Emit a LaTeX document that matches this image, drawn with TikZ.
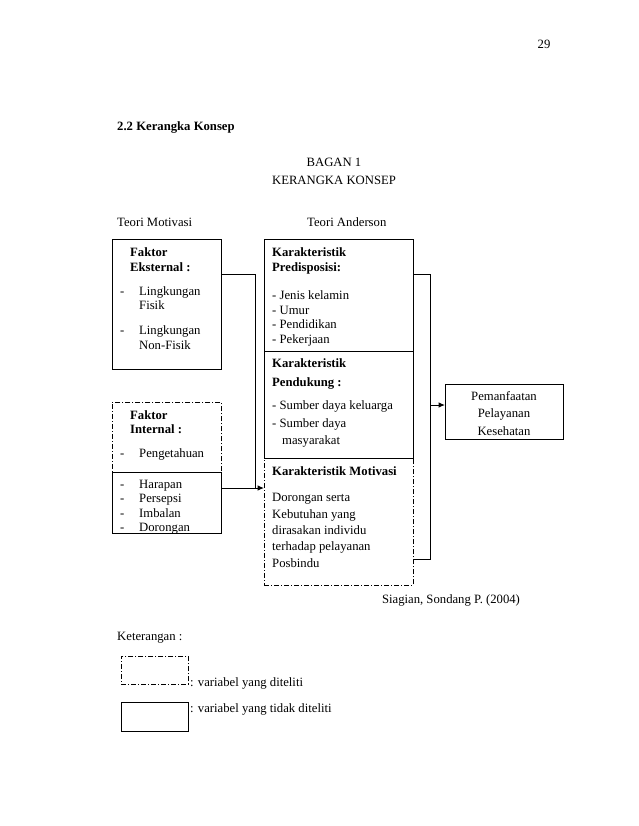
\documentclass[tikz,border=0pt]{standalone}
\usepackage{fontspec}
\setmainfont{Liberation Serif}
\usetikzlibrary{arrows.meta}
\begin{document}
\begin{tikzpicture}[x=1pt,y=-1pt,
  every node/.style={font=\fontsize{12.7}{15}\selectfont},
  solidbox/.style={draw, line width=1pt, inner sep=0, anchor=north west},
  dashbox/.style={draw, line width=0.9pt, inner sep=0, anchor=north west, dash pattern=on 5pt off 2pt on 1pt off 2pt},
  txt/.style={inner sep=0, anchor=base west},
  btxt/.style={inner sep=0, anchor=base west, font=\fontsize{12.7}{15}\selectfont\bfseries},
  ctxt/.style={inner sep=0, anchor=base},
  conn/.style={line width=1pt},
  arr/.style={line width=1pt, -{Latex[length=6.5pt,width=5.5pt]}}
]
\useasboundingbox (0,0) rectangle (638,826);
\fill[white] (0,0) rectangle (638,826);

% header texts
\node[ctxt] (pg) at (544,49) {29};
\node[btxt] (title) at (117,131) {2.2 Kerangka Konsep};
\node[ctxt] (bagan) at (334,167) {BAGAN 1};
\node[ctxt] (kk) at (334,185) {KERANGKA KONSEP};
\node[txt] (tm) at (117,226) {Teori Motivasi};
\node[txt] (ta) at (307,226) {Teori Anderson};

% boxes
\node[solidbox, minimum width=109pt, minimum height=130pt] (fe) at (112,239) {};
\node[dashbox, minimum width=109pt, minimum height=70pt] (fitop) at (112,402) {};
\node[solidbox, minimum width=109pt, minimum height=61pt] (fibot) at (112,472) {};
\node[solidbox, minimum width=149pt, minimum height=112pt] (kp) at (264,239) {};
\node[solidbox, minimum width=149pt, minimum height=107pt] (kd) at (264,351) {};
\node[dashbox, minimum width=149pt, minimum height=127pt] (km) at (264,458) {};
\node[solidbox, minimum width=118pt, minimum height=55pt] (pem) at (445,384) {};

% Faktor Eksternal text
\node[btxt] (fe1) at (130,256) {Faktor};
\node[btxt] (fe2) at (130,271) {Eksternal :};
\node[txt] (fe3a) at (120,295) {-};
\node[txt] (fe3) at (139,295) {Lingkungan};
\node[txt] (fe4) at (139,309) {Fisik};
\node[txt] (fe5a) at (120,334) {-};
\node[txt] (fe5) at (139,334) {Lingkungan};
\node[txt] (fe6) at (139,349) {Non-Fisik};

% Faktor Internal text
\node[btxt] (fi1) at (130,419) {Faktor};
\node[btxt] (fi2) at (130,433) {Internal :};
\node[txt] (fi3a) at (120,457) {-};
\node[txt] (fi3) at (139,457) {Pengetahuan};
\node[txt] (fi4a) at (120,488) {-};
\node[txt] (fi4) at (139,488) {Harapan};
\node[txt] (fi5a) at (120,502.5) {-};
\node[txt] (fi5) at (139,502.5) {Persepsi};
\node[txt] (fi6a) at (120,517) {-};
\node[txt] (fi6) at (139,517) {Imbalan};
\node[txt] (fi7a) at (120,531) {-};
\node[txt] (fi7) at (139,531) {Dorongan};

% Predisposisi
\node[btxt] (kp1) at (272,256) {Karakteristik};
\node[btxt] (kp2) at (272,271) {Predisposisi:};
\node[txt] (kp3) at (272,299) {- Jenis kelamin};
\node[txt] (kp4) at (272,314) {- Umur};
\node[txt] (kp5) at (272,328) {- Pendidikan};
\node[txt] (kp6) at (272,343) {- Pekerjaan};

% Pendukung
\node[btxt] (kd1) at (272,367) {Karakteristik};
\node[btxt] (kd2) at (272,386) {Pendukung :};
\node[txt] (kd3) at (272,409) {- Sumber daya keluarga};
\node[txt] (kd4) at (272,427) {- Sumber daya};
\node[txt] (kd5) at (282,444) {masyarakat};

% Motivasi
\node[btxt] (km1) at (272,475) {Karakteristik Motivasi};
\node[txt] (km2) at (272,501) {Dorongan serta};
\node[txt] (km3) at (272,518) {Kebutuhan yang};
\node[txt] (km4) at (272,534) {dirasakan individu};
\node[txt] (km5) at (272,550) {terhadap pelayanan};
\node[txt] (km6) at (272,567) {Posbindu};

% Pemanfaatan
\node[ctxt] (pm1) at (504,400) {Pemanfaatan};
\node[ctxt] (pm2) at (504,417) {Pelayanan};
\node[ctxt] (pm3) at (504,435) {Kesehatan};

% source
\node[ctxt] (src) at (451,603) {Siagian, Sondang P. (2004)};

% connectors
\coordinate (c1) at (255,274);
\coordinate (a1) at (255,488);
\draw[conn] (fe.east |- c1) -- (c1) -- (a1);
\draw[arr] (fibot.east |- a1) -- (km.west |- a1);
\coordinate (r1) at (430,274);
\coordinate (r2) at (430,559);
\coordinate (r3) at (430,405);
\draw[conn] (kp.east |- r1) -- (r1) -- (r2) -- (km.east |- r2);
\draw[arr] (r3) -- (pem.west |- r3);

% legend
\node[txt] (ket) at (117,640) {Keterangan :};
\node[dashbox, minimum width=67pt, minimum height=28pt] (lg1) at (121,656) {};
\node[txt] (lg1t) at (190,686) {: variabel yang diteliti};
\node[solidbox, minimum width=67pt, minimum height=29pt] (lg2) at (121,702) {};
\node[txt] (lg2t) at (190,712) {: variabel yang tidak diteliti};
\end{tikzpicture}
\end{document}
